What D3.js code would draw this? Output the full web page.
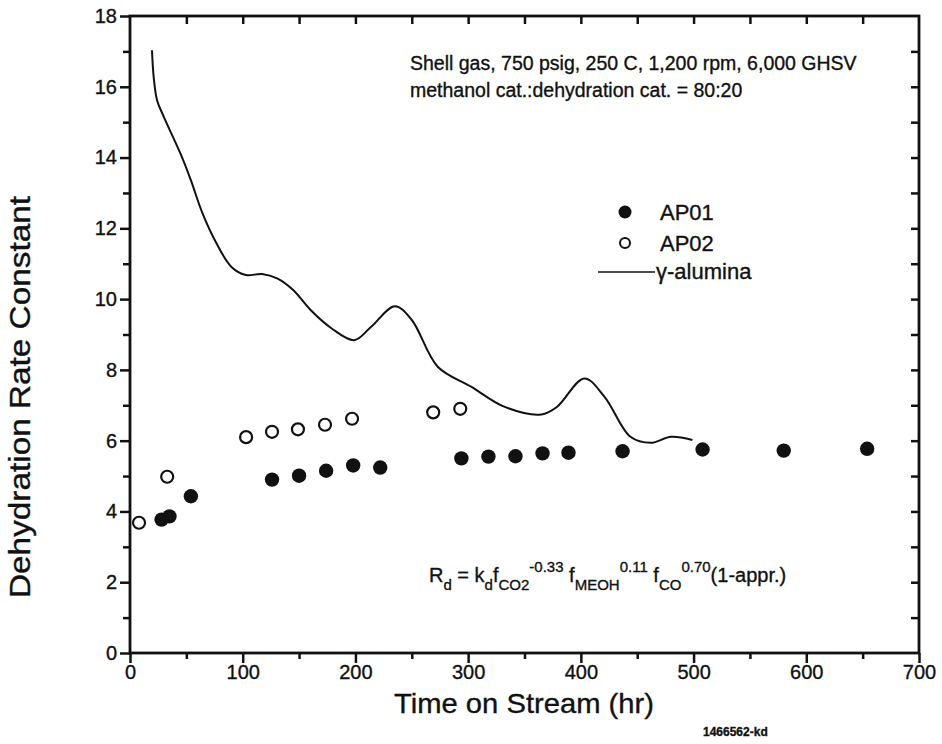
<!DOCTYPE html>
<html lang="en">
<head>
  <meta charset="UTF-8">
  <title>Dehydration Rate Constant vs Time on Stream</title>
  <script src="https://d3js.org/d3.v7.min.js"></script>
  <style>
    body {
      margin: 0;
      background: #fff;
      font-family: "Liberation Sans", Arial, Helvetica, sans-serif;
    }
    svg text {
      fill: #111;
      stroke: #111;
      stroke-width: 0.35px;
    }
    .axis path, .axis line {
      stroke: #111;
    }
    .axis text {
      font-size: 20px;
    }
  </style>
</head>
<body>
  <div id="chart"></div>

  <script>
    // AP01 (filled circles): [time hr, rate constant]
    const ap01 = [
      [28, 3.77], [35, 3.86], [54, 4.43], [126, 4.9], [150, 5.01],
      [174, 5.15], [198, 5.3], [222, 5.24], [294, 5.5], [318, 5.55],
      [342, 5.56], [366, 5.64], [389, 5.66], [437, 5.7], [508, 5.75],
      [580, 5.72], [654, 5.77]
    ];

    // AP02 (open circles)
    const ap02 = [
      [8, 3.68], [33, 4.98], [103, 6.1], [126, 6.25], [149, 6.32],
      [173, 6.45], [197, 6.62], [269, 6.8], [293, 6.9]
    ];

    // gamma-alumina reference curve
    const alumina = [
      [19.5, 17.03], [21, 16.28], [24, 15.62], [30, 15.15], [46, 14.02],
      [54, 13.36], [64, 12.45], [76, 11.62], [90, 10.91], [103, 10.68],
      [117, 10.71], [131, 10.58], [145, 10.25], [160, 9.7], [179, 9.17],
      [199, 8.84], [214, 9.22], [235, 9.8], [250, 9.41], [273, 8.09],
      [303, 7.52], [332, 6.96], [365, 6.74], [379, 6.96], [403, 7.76],
      [421, 7.24], [444, 6.11], [462, 5.94], [480, 6.11], [499, 6.02]
    ];

    const xTicks = [0, 100, 200, 300, 400, 500, 600, 700];
    const yTicks = [0, 2, 4, 6, 8, 10, 12, 14, 16, 18];

    const width = 942, height = 744;
    const margin = { top: 16, right: 23, bottom: 91, left: 130 };

    const svg = d3.select("#chart")
      .append("svg")
      .attr("width", width)
      .attr("height", height);

    const x = d3.scaleLinear().domain([0, 700]).range([margin.left, width - margin.right]);
    const y = d3.scaleLinear().domain([0, 18]).range([height - margin.bottom, margin.top]);

    const x0 = x(0), x1 = x(700), y0 = y(0), y1 = y(18);

    // bottom axis: major ticks with labels, minor ticks every 50
    svg.append("g")
      .attr("class", "axis")
      .attr("transform", `translate(0,${y0})`)
      .call(d3.axisBottom(x).tickValues(d3.range(50, 700, 100)).tickSize(6).tickFormat(""))
      .call(g => g.select(".domain").remove());

    svg.append("g")
      .attr("class", "axis")
      .attr("transform", `translate(0,${y0})`)
      .call(d3.axisBottom(x).tickValues(xTicks).tickSize(10).tickPadding(2))
      .call(g => g.select(".domain").remove());

    // left axis
    svg.append("g")
      .attr("class", "axis")
      .attr("transform", `translate(${x0},0)`)
      .call(d3.axisLeft(y).tickValues(d3.range(1, 18, 2)).tickSize(7).tickFormat(""))
      .call(g => g.select(".domain").remove());

    svg.append("g")
      .attr("class", "axis")
      .attr("transform", `translate(${x0},0)`)
      .call(d3.axisLeft(y).tickValues(yTicks).tickSize(10).tickPadding(3))
      .call(g => g.select(".domain").remove());

    // top and right: inward ticks only
    svg.append("g")
      .attr("class", "axis")
      .attr("transform", `translate(0,${y1})`)
      .call(d3.axisTop(x).tickValues(d3.range(50, 700, 50)).tickSize(-8).tickFormat(""))
      .call(g => g.select(".domain").remove());

    svg.append("g")
      .attr("class", "axis")
      .attr("transform", `translate(${x1},0)`)
      .call(d3.axisRight(y).tickValues(d3.range(1, 18, 1)).tickSize(-8).tickFormat(""))
      .call(g => g.select(".domain").remove());

    svg.selectAll(".axis line").attr("stroke-width", 2.5);

    // frame
    svg.append("rect")
      .attr("x", x0)
      .attr("y", y1)
      .attr("width", x1 - x0)
      .attr("height", y0 - y1)
      .attr("fill", "none")
      .attr("stroke", "#111")
      .attr("stroke-width", 2.8);

    // curve
    const line = d3.line()
      .x(d => x(d[0]))
      .y(d => y(d[1]))
      .curve(d3.curveCatmullRom.alpha(0.5));

    svg.append("path")
      .datum(alumina)
      .attr("d", line)
      .attr("fill", "none")
      .attr("stroke", "#111")
      .attr("stroke-width", 2);

    // points
    svg.append("g")
      .selectAll("circle")
      .data(ap02)
      .join("circle")
      .attr("cx", d => x(d[0]))
      .attr("cy", d => y(d[1]))
      .attr("r", 6)
      .attr("fill", "#fff")
      .attr("stroke", "#111")
      .attr("stroke-width", 2.2);

    svg.append("g")
      .selectAll("circle")
      .data(ap01)
      .join("circle")
      .attr("cx", d => x(d[0]))
      .attr("cy", d => y(d[1]))
      .attr("r", 7.2)
      .attr("fill", "#111");

    // legend
    const legend = svg.append("g");
    legend.append("circle").attr("cx", 625).attr("cy", 212).attr("r", 6.5).attr("fill", "#111");
    legend.append("text").attr("x", 660).attr("y", 220).attr("font-size", 22).text("AP01");
    legend.append("circle").attr("cx", 625).attr("cy", 243).attr("r", 5)
      .attr("fill", "#fff").attr("stroke", "#111").attr("stroke-width", 2);
    legend.append("text").attr("x", 660).attr("y", 251).attr("font-size", 22).text("AP02");
    legend.append("line").attr("x1", 598).attr("x2", 655).attr("y1", 272).attr("y2", 272)
      .attr("stroke", "#111").attr("stroke-width", 1.5);
    legend.append("text").attr("x", 656).attr("y", 279).attr("font-size", 22).text("γ-alumina");

    // conditions note
    svg.append("text").attr("x", 410).attr("y", 70).attr("font-size", 19.5)
      .text("Shell gas, 750 psig, 250 C, 1,200 rpm, 6,000 GHSV");
    svg.append("text").attr("x", 410).attr("y", 97).attr("font-size", 19.5)
      .text("methanol cat.:dehydration cat. = 80:20");

    // rate expression
    const parts = [
      { t: "R", s: 0 }, { t: "d", s: 1 }, { t: " = k", s: 0 }, { t: "d", s: 1 },
      { t: "f", s: 0 }, { t: "CO2", s: 1 }, { t: "-0.33", s: -1 },
      { t: " f", s: 0 }, { t: "MEOH", s: 1 }, { t: "0.11", s: -1 },
      { t: " f", s: 0 }, { t: "CO", s: 1 }, { t: "0.70", s: -1 },
      { t: "(1-appr.)", s: 0 }
    ];
    const shift = { "0": 0, "1": 8, "-1": -10 };
    const formula = svg.append("text").attr("x", 429).attr("y", 582).attr("font-size", 20);
    let prev = 0;
    parts.forEach(p => {
      formula.append("tspan")
        .attr("dy", shift[p.s] - prev)
        .attr("font-size", p.s === 0 ? 20 : 15)
        .text(p.t);
      prev = shift[p.s];
    });

    // axis titles
    svg.append("text")
      .attr("x", 524)
      .attr("y", 713)
      .attr("text-anchor", "middle")
      .attr("font-size", 28)
      .attr("textLength", 260)
      .attr("lengthAdjust", "spacingAndGlyphs")
      .text("Time on Stream (hr)");

    svg.append("text")
      .attr("transform", `translate(30,397) rotate(-90)`)
      .attr("text-anchor", "middle")
      .attr("font-size", 29)
      .attr("textLength", 402)
      .attr("lengthAdjust", "spacingAndGlyphs")
      .text("Dehydration Rate Constant");

    svg.append("text")
      .attr("x", 703)
      .attr("y", 736)
      .attr("font-size", 12)
      .attr("font-weight", "bold")
      .text("1466562-kd");
  </script>
</body>
</html>
